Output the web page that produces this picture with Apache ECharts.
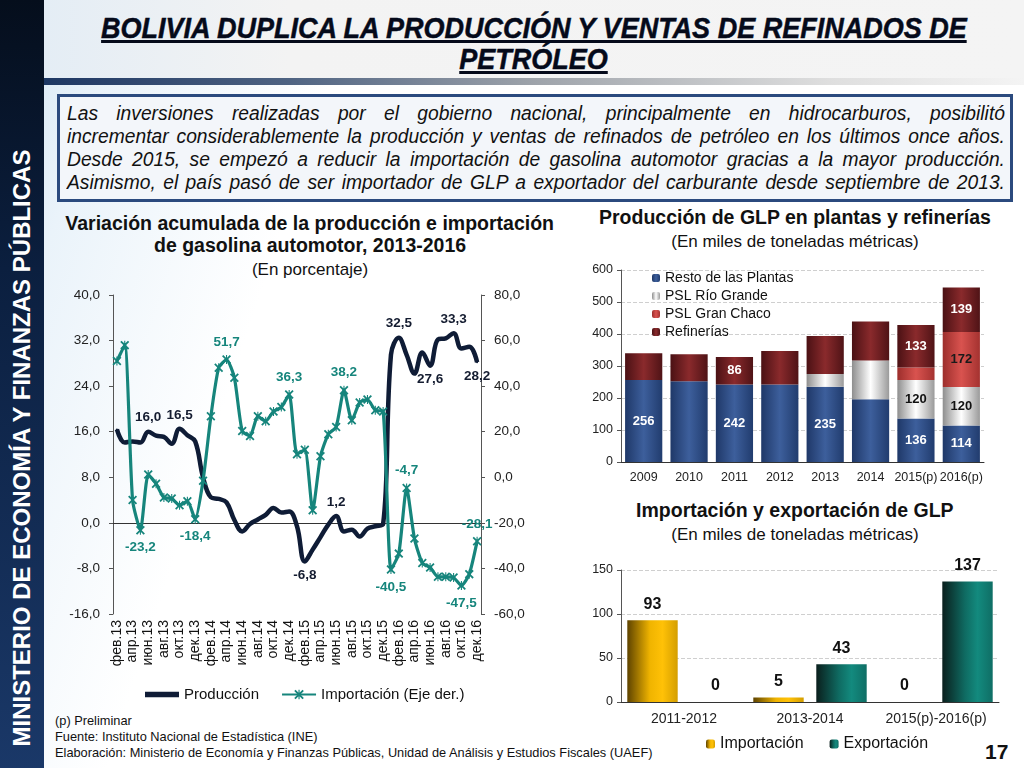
<!DOCTYPE html>
<html><head><meta charset="utf-8">
<script src="https://cdn.jsdelivr.net/npm/echarts@6/dist/echarts.min.js"></script>
<style>
html,body{margin:0;padding:0;width:1024px;height:768px;overflow:hidden;font-family:"Liberation Sans",Arial,sans-serif;}
body{background:linear-gradient(108deg,#d3e5f4 0%,#eaf3fa 10%,#ffffff 28%);position:relative;}
#band{position:absolute;left:0;top:0;width:44px;height:768px;background:linear-gradient(180deg,#050e1c 0%,#0b1f3f 35%,#1a3868 100%);}
#bandtxt{position:absolute;left:22px;top:448px;width:660px;margin-left:-330px;margin-top:-15px;height:30px;line-height:30px;text-align:center;color:#fff;font-weight:bold;font-size:24px;transform:rotate(-90deg);white-space:nowrap;}
#header{position:absolute;left:44px;top:0;width:980px;height:80px;background:linear-gradient(90deg,#e4edf5 0%,#f3f3f3 25%,#f4f4f4 100%);}
#hbar{position:absolute;left:44px;top:78px;width:980px;height:7px;background:linear-gradient(90deg,#1d3763 0%,#4f6382 25%,#9ea3aa 50%,#dedede 80%,#f4f4f4 100%);}
.ttl{position:absolute;left:44px;width:980px;text-align:center;white-space:nowrap;}
.ttl span{display:inline-block;font-weight:bold;font-style:italic;font-size:30px;color:#050a1a;text-decoration:underline;transform:scaleX(0.9);-webkit-text-stroke:0.5px #050a1a;}
#box{position:absolute;left:57px;top:94px;width:950px;height:102px;border:3px solid #2b4a7e;background:#f3f6fa;}
.ln{position:absolute;left:7px;width:975px;height:23px;line-height:23px;transform-origin:0 0;transform:scaleX(0.962);text-align:justify;text-align-last:justify;font-style:italic;font-size:20px;color:#111;}
.ct{position:absolute;text-align:center;white-space:nowrap;color:#111;}
.ct b{display:inline-block;font-size:20px;transform:scaleX(0.975);}
.ct.s{font-size:17px;}
#foot{position:absolute;left:55px;top:713px;font-size:12.8px;line-height:16px;color:#111;}
#pg{position:absolute;left:985px;top:740px;font-size:21px;font-weight:bold;color:#111;}
#chart{position:absolute;left:0;top:0;width:1024px;height:768px;}
</style></head>
<body>
<div id="band"><div id="bandtxt">MINISTERIO DE ECONOMÍA Y FINANZAS PÚBLICAS</div></div>
<div id="header"></div>
<div id="hbar"></div>
<div class="ttl" style="top:11px;"><span>BOLIVIA DUPLICA LA PRODUCCIÓN Y VENTAS DE REFINADOS DE</span></div>
<div class="ttl" style="top:42px;"><span>PETRÓLEO</span></div>
<div id="box">
 <div class="ln" style="top:5px;">Las inversiones realizadas por el gobierno nacional, principalmente en hidrocarburos, posibilitó</div>
 <div class="ln" style="top:28px;">incrementar considerablemente la producción y ventas de refinados de petróleo en los últimos once años.</div>
 <div class="ln" style="top:51px;">Desde 2015, se empezó a reducir la importación de gasolina automotor gracias a la mayor producción.</div>
 <div class="ln" style="top:74px;">Asimismo, el país pasó de ser importador de GLP a exportador del carburante desde septiembre de 2013.</div>
</div>
<div class="ct" style="left:40px;width:540px;top:212px;"><b>Variación acumulada de la producción e importación</b></div>
<div class="ct" style="left:40px;width:540px;top:234px;"><b>de gasolina automotor, 2013-2016</b></div>
<div class="ct s" style="left:60px;width:500px;top:260px;">(En porcentaje)</div>
<div class="ct" style="left:580px;width:430px;top:206px;"><b>Producción de GLP en plantas y refinerías</b></div>
<div class="ct s" style="left:590px;width:410px;top:232px;">(En miles de toneladas métricas)</div>
<div class="ct" style="left:580px;width:430px;top:499px;"><b>Importación y exportación de GLP</b></div>
<div class="ct s" style="left:590px;width:410px;top:525px;">(En miles de toneladas métricas)</div>
<div id="foot">(p) Preliminar<br>Fuente: Instituto Nacional de Estadística (INE)<br>Elaboración: Ministerio de Economía y Finanzas Públicas, Unidad de Análisis y Estudios Fiscales (UAEF)</div>
<div id="pg">17</div>
<div id="chart"></div>
<script>
// ---- Data ----
const months = ['фев.13','мар.13','апр.13','май.13','июн.13','июл.13','авг.13','сен.13','окт.13','ноя.13','дек.13',
 'янв.14','фев.14','мар.14','апр.14','май.14','июн.14','июл.14','авг.14','сен.14','окт.14','ноя.14','дек.14',
 'янв.15','фев.15','мар.15','апр.15','май.15','июн.15','июл.15','авг.15','сен.15','окт.15','ноя.15','дек.15',
 'янв.16','фев.16','мар.16','апр.16','май.16','июн.16','июл.16','авг.16','сен.16','окт.16','ноя.16','дек.16'];
const produccion = [16.4,14.1,14.3,14.1,16.0,15.3,15.1,13.9,16.5,15.4,14.3,8.0,4.5,4.2,3.6,0.5,-1.5,-0.2,0.6,1.4,2.6,1.8,2.0,-0.6,
 -6.8,-4.7,-2.5,-0.3,1.2,-1.5,-1.2,-2.4,-1.0,-0.6,-0.2,29.5,32.5,29.5,26.2,29.9,27.6,32.2,32.4,33.3,30.6,30.9,28.2];
const importacion = [51.0,58.0,-10.0,-23.2,1.2,-2.8,-8.9,-9.3,-12.3,-10.5,-18.4,-1.5,26.8,48.1,51.7,43.7,20.3,18.1,26.8,24.6,28.9,30.8,36.3,
 10.1,12.1,-14.5,9.2,18.9,22.1,38.2,25.0,32.8,34.1,29.4,28.9,-40.5,-33.5,-4.7,-26.9,-37.6,-39.6,-43.7,-43.7,-44.0,-47.5,-42.5,-28.1];
const glpYears = ['2009','2010','2011','2012','2013','2014','2015(p)','2016(p)'];
const restoPlantas = [256,252,242,242,235,196,136,114];
const pslRioGrande = [0,0,0,0,40,121,120,120];
const pslGranChaco = [0,0,0,0,0,0,39,172];
const refinerias = [84,85,86,105,119,122,133,139];
const periodos = ['2011-2012','2013-2014','2015(p)-2016(p)'];
const importGLP = [93,5,0];
const exportGLP = [0,43,137];

// ---- label placement (style) ----
const prodLab = {4:'top',8:'top',24:'bottom',28:'top',36:'top',40:'bottom',43:'top',46:'bottom'};
const impLab = {3:'bottom',10:'bottom',14:'top',22:'top',29:'top',35:'bottom',37:'top',44:'bottom',46:'top'};
const restoLab = [0,2,4,6,7], rgLab = [6,7], gcLab = [7], refLab = [2,6,7];

const fmt = v => Number(v).toFixed(1).replace('.', ',');
const withLabels = (arr, map, color) => arr.map((v,i) => map[i] ? {value:v, label:{show:true, position:map[i], distance:6, color:color, fontWeight:'bold', fontSize:13.5, formatter:p=>fmt(p.value)}} : v);
const pick = (arr, idx) => arr.map((v,i) => idx.includes(i) ? {value:v, label:{show:true}} : v);
const hgrad = (a,b,c) => ({type:'linear',x:0,y:0,x2:1,y2:0,colorStops:[{offset:0,color:a},{offset:0.5,color:b},{offset:1,color:c}]});
const hgrad4 = (a,b,c,d) => ({type:'linear',x:0,y:0,x2:1,y2:0,colorStops:[{offset:0,color:a},{offset:0.45,color:b},{offset:0.7,color:c},{offset:1,color:d}]});
const xMark = 'path://M0,1.4L1.4,0L5,3.6L8.6,0L10,1.4L6.4,5L10,8.6L8.6,10L5,6.4L1.4,10L0,8.6L3.6,5Z M4.4,0L5.6,0L5.6,10L4.4,10Z';

const teal = '#16857c', navy = '#0f1c36';
const axisTxt = {color:'#222', fontSize:12.5, fontFamily:'Liberation Sans'};
const lineAxisTxt = {color:'#222', fontSize:13.5, fontFamily:'Liberation Sans'};

const chart = echarts.init(document.getElementById('chart'), null, {renderer:'canvas'});
chart.setOption({
 animation:false,
 textStyle:{fontFamily:'Liberation Sans'},
 grid:[
  {left:113, top:295, width:368, height:319},
  {left:621, top:270, width:363, height:192},
  {left:621, top:570, width:378, height:132}
 ],
 legend:[
  {data:[{name:'Producción', icon:'path://M0,0L30,0L30,5L0,5Z'}, {name:'Importación (Eje der.)'}], left:140, top:682, itemWidth:34, itemHeight:12, itemGap:22,
   textStyle:{fontSize:15, color:'#111'}},
  {data:['Resto de las Plantas','PSL Río Grande','PSL Gran Chaco','Refinerías'], orient:'vertical', left:647, top:266,
   itemWidth:8, itemHeight:8, itemGap:4, textStyle:{fontSize:14, color:'#111'}},
  {data:['Importación','Exportación'], left:701, top:731, itemWidth:9, itemHeight:9, itemGap:26,
   textStyle:{fontSize:16, color:'#111'}}
 ],
 xAxis:[
  {gridIndex:0, type:'category', data:months, axisLine:{show:false, onZero:false}, axisTick:{show:false},
   axisLabel:Object.assign({}, lineAxisTxt, {interval:1, rotate:90, margin:6, fontSize:14, color:'#111'})},
  {gridIndex:0, type:'category', data:months, position:'bottom', axisLine:{onZero:true, onZeroAxisIndex:0, lineStyle:{color:'#333', width:1}},
   axisTick:{interval:1, length:4, lineStyle:{color:'#333'}}, axisLabel:{show:false}},
  {gridIndex:1, type:'category', data:glpYears, axisLine:{lineStyle:{color:'#333'}}, axisTick:{length:4, lineStyle:{color:'#333'}},
   axisLabel:Object.assign({margin:9, interval:0}, axisTxt)},
  {gridIndex:2, type:'category', data:periodos, axisLine:{lineStyle:{color:'#333'}}, axisTick:{length:5, lineStyle:{color:'#333'}},
   axisLabel:Object.assign({}, axisTxt, {margin:10, fontSize:14, interval:0})}
 ],
 yAxis:[
  {gridIndex:0, min:-16, max:40, interval:8, position:'left', axisLine:{show:true, lineStyle:{color:'#555'}},
   axisTick:{show:true, length:4, lineStyle:{color:'#555'}}, splitLine:{show:false}, axisLabel:Object.assign({formatter:fmt, margin:13}, lineAxisTxt)},
  {gridIndex:0, min:-60, max:80, interval:20, position:'right', axisLine:{show:true, lineStyle:{color:'#555'}},
   axisTick:{show:true, length:4, lineStyle:{color:'#555'}}, splitLine:{show:false}, axisLabel:Object.assign({formatter:fmt, margin:13}, lineAxisTxt)},
  {gridIndex:1, min:0, max:600, interval:100, axisLine:{show:true, lineStyle:{color:'#555'}}, axisTick:{show:true, length:4, lineStyle:{color:'#555'}},
   splitLine:{lineStyle:{type:'dashed', color:'#cfcfcf'}}, axisLabel:Object.assign({margin:8}, axisTxt)},
  {gridIndex:2, min:0, max:150, interval:50, axisLine:{show:true, lineStyle:{color:'#555'}}, axisTick:{show:true, length:4, lineStyle:{color:'#555'}},
   splitLine:{lineStyle:{type:'dashed', color:'#cfcfcf'}}, axisLabel:Object.assign({margin:8}, axisTxt)}
 ],
 series:[
  {name:'Producción', type:'line', xAxisIndex:0, yAxisIndex:0, data:withLabels(produccion, prodLab, '#141c30'),
   smooth:0.4, symbol:'circle', symbolSize:2, showAllSymbol:true, lineStyle:{color:navy, width:4.5}, itemStyle:{color:navy}, z:3},
  {name:'Importación (Eje der.)', type:'line', xAxisIndex:0, yAxisIndex:1, data:withLabels(importacion, impLab, teal),
   smooth:0.2, symbol:xMark, symbolSize:9, showAllSymbol:true, lineStyle:{color:teal, width:3.2}, itemStyle:{color:teal}, z:4},

  {name:'Resto de las Plantas', type:'bar', stack:'glp', xAxisIndex:2, yAxisIndex:2, barWidth:'82%',
   data:pick(restoPlantas, restoLab), itemStyle:{color:hgrad('#1f3868','#3d5f9c','#213c6e')},
   label:{show:false, position:'inside', color:'#fff', fontWeight:'bold', fontSize:13}},
  {name:'PSL Río Grande', type:'bar', stack:'glp', xAxisIndex:2, yAxisIndex:2,
   data:pick(pslRioGrande, rgLab), itemStyle:{color:hgrad('#8e8e8e','#ffffff','#9a9a9a')},
   label:{show:false, position:'inside', color:'#111', fontWeight:'bold', fontSize:13}},
  {name:'PSL Gran Chaco', type:'bar', stack:'glp', xAxisIndex:2, yAxisIndex:2,
   data:pick(pslGranChaco, gcLab), itemStyle:{color:hgrad('#9c2e2c','#d9534f','#a43230')},
   label:{show:false, position:'inside', color:'#1a1a1a', fontWeight:'bold', fontSize:13}},
  {name:'Refinerías', type:'bar', stack:'glp', xAxisIndex:2, yAxisIndex:2,
   data:pick(refinerias, refLab), itemStyle:{color:hgrad('#4a1114','#8a2a2c','#4f1316')},
   label:{show:false, position:'inside', color:'#fff', fontWeight:'bold', fontSize:13}},

  {name:'Importación', type:'bar', xAxisIndex:3, yAxisIndex:3, barCategoryGap:'10%', barGap:'25%', data:importGLP,
   itemStyle:{color:hgrad4('#5e4300','#f0b400','#ffc107','#d49e00')},
   label:{show:true, position:'top', distance:8, color:'#111', fontWeight:'bold', fontSize:16}},
  {name:'Exportación', type:'bar', xAxisIndex:3, yAxisIndex:3, barCategoryGap:'10%', barGap:'25%', data:exportGLP,
   itemStyle:{color:hgrad4('#0a1f1d','#0f6b62','#138a7e','#0f6e65')},
   label:{show:true, position:'top', distance:8, color:'#111', fontWeight:'bold', fontSize:16}}
 ]
});
</script>
</body></html>
